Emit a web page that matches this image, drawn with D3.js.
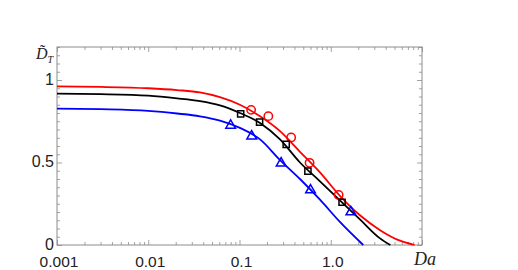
<html>
<head>
<script src="https://d3js.org/d3.v7.min.js"></script>
<style>
  body { margin: 0; background: #fff; }
</style>
</head>
<body>
<script>
// x ticks (log axis) and y ticks
const xTickValues = [0.001, 0.01, 0.1, 1, 10];
const xTickLabels = ["0.001", "0.01", "0.1", "1.0", ""];
const yTickValues = [0, 0.5, 1];
const yTickLabels = ["0", "0.5", "1"];

// fitted curves as [Da, D_T]
const redCurve = [[0.001,0.961],[0.003,0.958],[0.01,0.95],[0.0207,0.939],[0.0369,0.925],[0.0611,0.896],
  [0.101,0.85],[0.168,0.78],[0.278,0.69],[0.46,0.565],[0.762,0.44],[1.26,0.298],[2.09,0.18],
  [3.47,0.09],[5.74,0.026],[8.3,0]];
const blackCurve = [[0.001,0.917],[0.003,0.914],[0.01,0.905],[0.0207,0.889],[0.0369,0.872],[0.0611,0.846],
  [0.101,0.80],[0.168,0.74],[0.278,0.64],[0.46,0.50],[0.762,0.386],[1.26,0.27],[2.09,0.155],
  [3.47,0.04],[4.5,0]];
const blueCurve = [[0.001,0.827],[0.003,0.823],[0.01,0.813],[0.0207,0.797],[0.0369,0.78],[0.0611,0.754],
  [0.101,0.71],[0.168,0.64],[0.278,0.515],[0.46,0.40],[0.762,0.275],[1.26,0.14],[2.27,0]];

// measured points
const redDa = [0.134, 0.207, 0.368, 0.586, 1.22];
const redD = [0.819, 0.781, 0.652, 0.498, 0.303];
const blackDa = [0.103, 0.166, 0.325, 0.562, 1.33];
const blackD = [0.795, 0.745, 0.61, 0.448, 0.259];
const blueDa = [0.080, 0.136, 0.286, 0.60, 1.66];
const blueD = [0.725, 0.66, 0.496, 0.333, 0.2];

const W = 518, H = 270;
const m = {left: 57, right: 422, top: 47, bottom: 245};
const sans = '"Liberation Sans", Arial, sans-serif';
const serif = '"Liberation Serif", "Times New Roman", serif';

const svg = d3.select('body').append('svg')
    .attr('width', W).attr('height', H);

const x = d3.scaleLog().domain([0.001, 10]).range([m.left, m.right]);
const y = d3.scaleLinear().domain([0, 1.2]).range([m.bottom, m.top]);

// minor ticks
const xMinor = [];
[0.001, 0.01, 0.1, 1].forEach(d => { for (let k = 2; k <= 9; k++) xMinor.push(d * k); });
const yMinor = d3.range(0, 1.2001, 0.05).map(v => +v.toFixed(2)).filter(v => !yTickValues.includes(v));

const frameColor = '#8c8c8c';
function styleAxis(g) {
  g.select('.domain').remove();
  g.selectAll('.tick line').attr('stroke', frameColor).attr('stroke-width', 0.8);
}

// frame
svg.append('rect')
    .attr('x', m.left).attr('y', m.top)
    .attr('width', m.right - m.left).attr('height', m.bottom - m.top)
    .attr('fill', 'none').attr('stroke', frameColor).attr('stroke-width', 1);

// bottom & top ticks
svg.append('g').attr('transform', `translate(0,${m.bottom})`)
    .call(d3.axisBottom(x).tickValues(xMinor).tickSize(-3).tickFormat('')).call(styleAxis);
svg.append('g').attr('transform', `translate(0,${m.bottom})`)
    .call(d3.axisBottom(x).tickValues(xTickValues).tickSize(-5).tickFormat('')).call(styleAxis);
svg.append('g').attr('transform', `translate(0,${m.top})`)
    .call(d3.axisTop(x).tickValues(xMinor).tickSize(-3).tickFormat('')).call(styleAxis);
svg.append('g').attr('transform', `translate(0,${m.top})`)
    .call(d3.axisTop(x).tickValues(xTickValues).tickSize(-5).tickFormat('')).call(styleAxis);

// left & right ticks
svg.append('g').attr('transform', `translate(${m.left},0)`)
    .call(d3.axisLeft(y).tickValues(yMinor).tickSize(-3).tickFormat('')).call(styleAxis);
svg.append('g').attr('transform', `translate(${m.left},0)`)
    .call(d3.axisLeft(y).tickValues(yTickValues).tickSize(-5).tickFormat('')).call(styleAxis);
svg.append('g').attr('transform', `translate(${m.right},0)`)
    .call(d3.axisRight(y).tickValues(yMinor).tickSize(-3).tickFormat('')).call(styleAxis);
svg.append('g').attr('transform', `translate(${m.right},0)`)
    .call(d3.axisRight(y).tickValues(yTickValues).tickSize(-5).tickFormat('')).call(styleAxis);

// tick labels
svg.append('g').selectAll('text').data(xTickValues).join('text')
    .attr('x', d => x(d) + 2).attr('y', 267)
    .attr('text-anchor', 'middle')
    .style('font-family', sans).style('font-size', '15.5px').attr('fill', '#222')
    .text((d, i) => xTickLabels[i]);
svg.append('g').selectAll('text').data(yTickValues).join('text')
    .attr('x', 54).attr('y', d => y(d) + 4.5)
    .attr('text-anchor', 'end')
    .style('font-family', sans).style('font-size', '16px').attr('fill', '#222')
    .text((d, i) => yTickLabels[i]);

// axis titles
svg.append('text')
    .attr('x', 414).attr('y', 265)
    .style('font-family', serif).style('font-style', 'italic').style('font-size', '18px')
    .attr('fill', '#222')
    .text('Da');
const yt = svg.append('text')
    .attr('x', 36).attr('y', 59)
    .style('font-family', serif).style('font-style', 'italic').style('font-size', '16px')
    .attr('fill', '#222');
yt.append('tspan').text('D\u0303');
yt.append('tspan').style('font-size', '10px').attr('dy', 4).text('T');

// curves
const line = d3.line()
    .x(d => x(d[0])).y(d => y(d[1]))
    .curve(d3.curveMonotoneX);
const curves = [[redCurve, 'red'], [blackCurve, 'black'], [blueCurve, 'blue']];
svg.append('g').selectAll('path').data(curves).join('path')
    .attr('d', d => line(d[0]))
    .attr('fill', 'none').attr('stroke', d => d[1]).attr('stroke-width', 1.8);

// markers
const sym = d3.symbol();
function markers(da, dv, type, size, color) {
  svg.append('g').selectAll('path').data(da).join('path')
      .attr('transform', (d, i) => `translate(${x(d)},${y(dv[i])})`)
      .attr('d', sym.type(type).size(size)())
      .attr('fill', 'none').attr('stroke', color).attr('stroke-width', 1.5);
}
markers(redDa, redD, d3.symbolCircle, 55, 'red');
markers(blackDa, blackD, d3.symbolSquare, 38, 'black');
markers(blueDa, blueD, d3.symbolTriangle, 40, 'blue');
</script>
</body>
</html>
